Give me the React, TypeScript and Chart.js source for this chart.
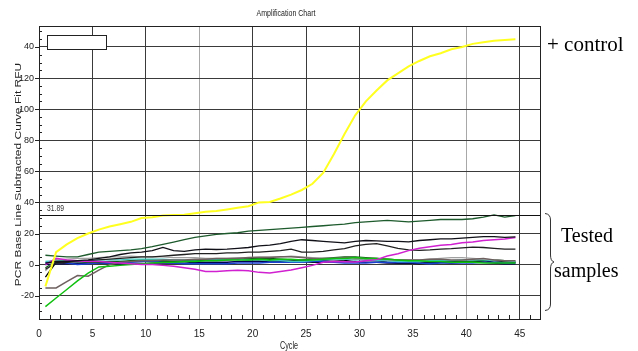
import React, { useEffect, useRef } from "react";
import { Chart, registerables } from "chart.js";

Chart.register(...registerables);

const cycles = [1,2,3,4,5,6,7,8,9,10,11,12,13,14,15,16,17,18,19,20,21,22,23,24,25,26,27,28,29,30,31,32,33,34,35,36,37,38,39,40,41,42,43,44,45];
const CYCLE_OFFSET = -0.4;

const positiveControl = [-14,8,13,17,20,22.5,24.5,26,27.5,30,30.5,31.6,31.9,32.1,33,34,34.5,35.5,36.5,37.5,40,40.3,42.5,45,48,52,59,71,84,96,105,112,118.5,123,127.5,131,134,136,138.5,140,142,143,144,144.5,145];
const sampleDarkGreen = [6,5.5,5,5,6.5,8,8.5,9,9.5,10.3,11.5,13,14.5,16,17.5,18.5,19.5,20,20.5,21.5,22,22.5,23,23.5,24,24.5,25,25.5,26,27,27.5,28,28.5,28,27.5,28,28.5,29,29,29,29.5,30.5,32,30.5,31.5];
const sampleBlackUpper = [1,2,2,2.5,3,4,5,6.5,7.5,8,9,11,9,8.5,9.5,10,9.7,10,10.5,11,12,12.5,13.5,15,16,15.5,15,14.5,14,15,15.5,15.2,15,15,14.6,15.5,16,16.5,16.5,17,17.5,18,18,17.5,17.8];
const sampleBlackLower = [-3,1,1.5,2,2.5,3,3.5,4,4.5,5,5,5.5,6,6.5,7,7,7,7.5,7.5,8,8,8.5,9,10,8,8,8.5,9.5,10.3,12,13,13.5,12,10.5,9.5,9.2,9.5,10,10.3,10.8,11.3,11,10.5,10,9.9];
const sampleMagenta = [0,4,3,2.5,2,2,1.5,1,0.5,0,0,-0.5,-1,-2,-3,-4.5,-4.5,-4,-3.7,-4,-5,-5.4,-4.5,-3.5,-2,-0.5,1.5,2,1.8,1.7,2.5,3.2,5.5,7,9,10.5,11.5,12.5,13,14,14.5,15.5,16,16.5,17.5];
const sampleGreen = [-27,-21.5,-16,-10.5,-5.5,-1.5,-1,-0.5,0,0.5,1,1.5,1.5,2,2,2.5,2.5,3,3,3,3.5,3,3.5,3.5,3,3,3.5,4,4,4.5,4,4,3.5,3,2.5,2.5,2,2,1.5,1.5,1.5,1,1,1,1];
const sampleTaupe = [-15,-15,-11,-7,-7.5,-3.5,0,1.5,2,2.5,2.5,3,3,3,3.5,3.5,4,4,4,4.5,4.5,4.5,5,5,4.5,4,4,4,4.5,4.5,4,4,3.5,3,3,3,3.5,3.5,3,3,3.5,4,3,2.5,2.5];
const sampleBlackLow = [-8,1.5,1,0.5,1,1,1.5,1.5,2,2,2.5,2,2,2.5,2.5,3,3,3,3.5,3,3,3.5,3,3,2,1.5,1.5,2,2.5,3.5,3,2.5,1.5,1,1,0.5,1,1.5,1,1.5,2,2.5,1.5,2,1.5];
const sampleBlue = [1,3,1,0,0.5,1,1,1.5,1.5,2,2,1.5,1,0.5,0.5,0.5,0.5,0.5,1,1,1,1.5,1.5,1.5,1.5,2,2,1.5,1,1,1,1.5,1.5,1.5,1.5,1,0.5,1,1,1,1,1.5,1.5,1,1];
const sampleCyan = [2,2.5,2,2,2.5,3,3,3,3.5,3.5,3.5,3.5,3,3,3,3.5,3.5,3.5,3.5,3,3,2.5,2.5,2,2,2.5,3,3.5,3.5,3,3,2.5,2.5,2,2,2,2.5,2.5,2.5,3,3,3,2.5,2.5,2];
const sampleNavy = [0,0.5,0.5,1,1,1,1,0.5,0.5,0.5,1,1,1,1,1.5,1.5,1.5,1.5,2,2,2,2,2,2,2.5,2.5,2.5,2,2,2,1.5,1.5,1,1,1,1,1.5,1.5,2,2,2,1.5,1,0.5,0.5];
const sampleGray = [-4,3,3.5,4,4,4.5,5,5,5.5,5,5,5,4.5,4.5,4.5,4,4,4,4.5,4.5,5,5,5,5.5,5,4.5,4,4,4,3.5,3.5,3.5,3,3,3,3,3.5,4,4.5,4.5,4,3.5,3,2.5,2.5];
const sampleDeepGreen = [-2,2,2.5,2,1.5,1.5,2,2,2.5,3,3,2.5,2,2,2.5,3,3,3.5,3.5,4,4,4,3.5,3,3,3.5,4,4.5,5,5,4.5,4,3.5,3,2.5,2,2,2.5,2.5,2,2,2.5,3,2.5,1.5];

const thresholdValue = 31.89;
const thresholdLabel = "31.89";
const yTickValues = [-20, 0, 20, 40, 60, 80, 100, 120, 140];
const yTickLabels = ["-20", "0", "20", "40", "60", "80", "100", "120", "40"];
const xTickValues = [0, 5, 10, 15, 20, 25, 30, 35, 40, 45];
const chartTitle = "Amplification Chart";
const xTitle = "Cycle";
const yTitle = "PCR Base Line Subtracted Curve Fit RFU";
const controlNote = "+ control";
const testedNote = ["Tested", "samples"];

const series = [
  { name: "Positive control", values: positiveControl, color: "#ffff20", width: 2 },
  { name: "Sample 1", values: sampleDarkGreen, color: "#1d5a2c", width: 1.3 },
  { name: "Sample 2", values: sampleBlackUpper, color: "#101018", width: 1.3 },
  { name: "Sample 3", values: sampleMagenta, color: "#d020d0", width: 1.5 },
  { name: "Sample 4", values: sampleBlackLower, color: "#202020", width: 1.3 },
  { name: "Sample 5", values: sampleGreen, color: "#10c010", width: 1.5 },
  { name: "Sample 6", values: sampleTaupe, color: "#6f6060", width: 1.5 },
  { name: "Sample 7", values: sampleGray, color: "#a0a0a0", width: 1.3 },
  { name: "Sample 8", values: sampleCyan, color: "#40c8c0", width: 1.3 },
  { name: "Sample 9", values: sampleDeepGreen, color: "#0a5a10", width: 1.3 },
  { name: "Sample 10", values: sampleBlue, color: "#1a40d0", width: 1.5 },
  { name: "Sample 11", values: sampleNavy, color: "#000050", width: 1.3 },
  { name: "Sample 12", values: sampleBlackLow, color: "#000000", width: 1.3 },
];

const decorPlugin = {
  id: "decor",
  afterDatasetsDraw(chart: any) {
    const { ctx, chartArea, scales } = chart;
    const y = scales.y;
    const x = scales.x;
    const ty = Math.round(y.getPixelForValue(thresholdValue)) + 0.5;
    ctx.save();
    ctx.strokeStyle = "#111";
    ctx.lineWidth = 1.2;
    ctx.beginPath();
    ctx.moveTo(chartArea.left, ty);
    ctx.lineTo(chartArea.right, ty);
    ctx.stroke();
    ctx.fillStyle = "#333";
    ctx.font = "9px 'Liberation Sans'";
    ctx.textBaseline = "bottom";
    ctx.textAlign = "left";
    ctx.translate(chartArea.left + 8, ty - 2);
    ctx.scale(0.75, 1);
    ctx.fillText(thresholdLabel, 0, 0);
    ctx.restore();

    ctx.save();
    ctx.strokeStyle = "#222";
    ctx.lineWidth = 1;
    for (let v = -35; v <= y.max; v += 5) {
      const py = Math.round(y.getPixelForValue(v)) + 0.5;
      ctx.beginPath();
      if (v % 20 === 0) {
        ctx.moveTo(chartArea.left - 4, py);
        ctx.lineTo(chartArea.left, py);
      } else {
        ctx.moveTo(chartArea.left, py);
        ctx.lineTo(chartArea.left + 3, py);
      }
      ctx.stroke();
    }
    for (let c = 1; c <= Math.floor(x.max); c++) {
      if (c % 5 === 0) continue;
      const px = Math.round(x.getPixelForValue(c)) + 0.5;
      ctx.beginPath();
      ctx.moveTo(px, chartArea.bottom);
      ctx.lineTo(px, chartArea.bottom - 4);
      ctx.stroke();
    }
    ctx.fillStyle = "#fff";
    ctx.strokeStyle = "#222";
    ctx.fillRect(chartArea.left + 8, chartArea.top + 9, 59, 14);
    ctx.strokeRect(chartArea.left + 8.5, chartArea.top + 9.5, 59, 14);
    ctx.restore();
  },
  afterDraw(chart: any) {
    const { ctx, chartArea } = chart;
    ctx.save();
    ctx.fillStyle = "#222";
    ctx.save();
    ctx.font = "9px 'Liberation Sans'";
    ctx.textAlign = "center";
    ctx.textBaseline = "middle";
    ctx.translate(286, 14);
    ctx.scale(0.78, 1);
    ctx.fillText(chartTitle, 0, 0);
    ctx.restore();
    ctx.save();
    ctx.font = "10px 'Liberation Sans'";
    ctx.textAlign = "center";
    ctx.textBaseline = "middle";
    ctx.translate(289, 346);
    ctx.scale(0.72, 1);
    ctx.fillText(xTitle, 0, 0);
    ctx.restore();
    ctx.save();
    ctx.font = "12px 'Liberation Sans'";
    ctx.textAlign = "center";
    ctx.textBaseline = "middle";
    ctx.translate(18, (chartArea.top + chartArea.bottom) / 2 + 2);
    ctx.rotate(-Math.PI / 2);
    ctx.scale(1, 0.8);
    ctx.fillText(yTitle, 0, 0);
    ctx.restore();
    ctx.fillStyle = "#000";
    ctx.textAlign = "left";
    ctx.textBaseline = "alphabetic";
    ctx.font = "21px 'Liberation Serif'";
    ctx.fillText(controlNote, 547, 51);
    ctx.font = "20px 'Liberation Serif'";
    ctx.fillText(testedNote[0], 561, 242);
    ctx.fillText(testedNote[1], 554, 277);
    ctx.strokeStyle = "#333";
    ctx.lineWidth = 1;
    ctx.beginPath();
    ctx.moveTo(545, 213.5);
    ctx.quadraticCurveTo(550.5, 214, 550.5, 220);
    ctx.lineTo(550.5, 255);
    ctx.quadraticCurveTo(550.5, 261, 554, 262);
    ctx.quadraticCurveTo(550.5, 263, 550.5, 269);
    ctx.lineTo(550.5, 304);
    ctx.quadraticCurveTo(550.5, 310, 545, 310.5);
    ctx.stroke();
    ctx.restore();
  },
};

export default function App() {
  const ref = useRef<HTMLCanvasElement | null>(null);
  useEffect(() => {
    if (!ref.current) return;
    const datasets = series.map((s) => ({
      label: s.name,
      data: cycles.map((c, i) => ({ x: c + CYCLE_OFFSET, y: s.values[i] })),
      borderColor: s.color,
      backgroundColor: s.color,
      borderWidth: s.width,
      pointRadius: 0,
      tension: 0,
      fill: false,
    }));
    const chart = new Chart(ref.current, {
      type: "line",
      data: { datasets },
      options: {
        animation: false,
        responsive: false,
        devicePixelRatio: 1,
        layout: { padding: { left: 0, right: 98, top: 26, bottom: 0 } },
        plugins: { legend: { display: false }, tooltip: { enabled: false }, title: { display: false } },
        scales: {
          x: {
            type: "linear",
            min: 0,
            max: 46.9,
            afterFit: (s: any) => { s.height = 32; },
            afterBuildTicks: (s: any) => { s.ticks = xTickValues.map((v) => ({ value: v })); },
            ticks: {
              autoSkip: false,
              maxRotation: 0,
              padding: 9,
              color: "#222",
              font: { family: "'Liberation Sans Narrow', 'Liberation Sans'", size: 10 },
              callback: (v: any) => String(v),
            },
            grid: {
              drawTicks: false,
              lineWidth: 1,
              color: (c: any) => (c.tick && (c.tick.value === 15 || c.tick.value === 40) ? "#a8a8a8" : "#3a3a3a"),
            },
            border: { display: true, color: "#222", width: 1 },
          },
          y: {
            type: "linear",
            min: -35,
            max: 153.5,
            afterFit: (s: any) => { s.width = 39; },
            afterBuildTicks: (s: any) => { s.ticks = yTickValues.map((v) => ({ value: v })); },
            ticks: {
              autoSkip: false,
              padding: 5,
              color: "#222",
              font: { family: "'Liberation Sans Narrow', 'Liberation Sans'", size: 9 },
              callback: (v: any) => {
                const i = yTickValues.indexOf(Number(v));
                return i >= 0 ? yTickLabels[i] : "";
              },
            },
            grid: { drawTicks: false, lineWidth: 1, color: "#3a3a3a" },
            border: { display: true, color: "#222", width: 1 },
          },
        },
      },
      plugins: [
        decorPlugin,
        {
          id: "frame",
          afterDatasetsDraw(chart: any) {
            const { ctx, chartArea } = chart;
            ctx.save();
            ctx.strokeStyle = "#222";
            ctx.lineWidth = 1;
            ctx.strokeRect(Math.round(chartArea.left) + 0.5, Math.round(chartArea.top) + 0.5, Math.round(chartArea.right - chartArea.left), Math.round(chartArea.bottom - chartArea.top));
            ctx.restore();
          },
        },
      ],
    } as any);
    return () => chart.destroy();
  }, []);
  return (
    <div style={{ position: "fixed", left: 0, top: 0, width: 638, height: 351, background: "#fff" }}>
      <canvas ref={ref} width={638} height={351} style={{ width: 638, height: 351, display: "block" }} />
    </div>
  );
}
